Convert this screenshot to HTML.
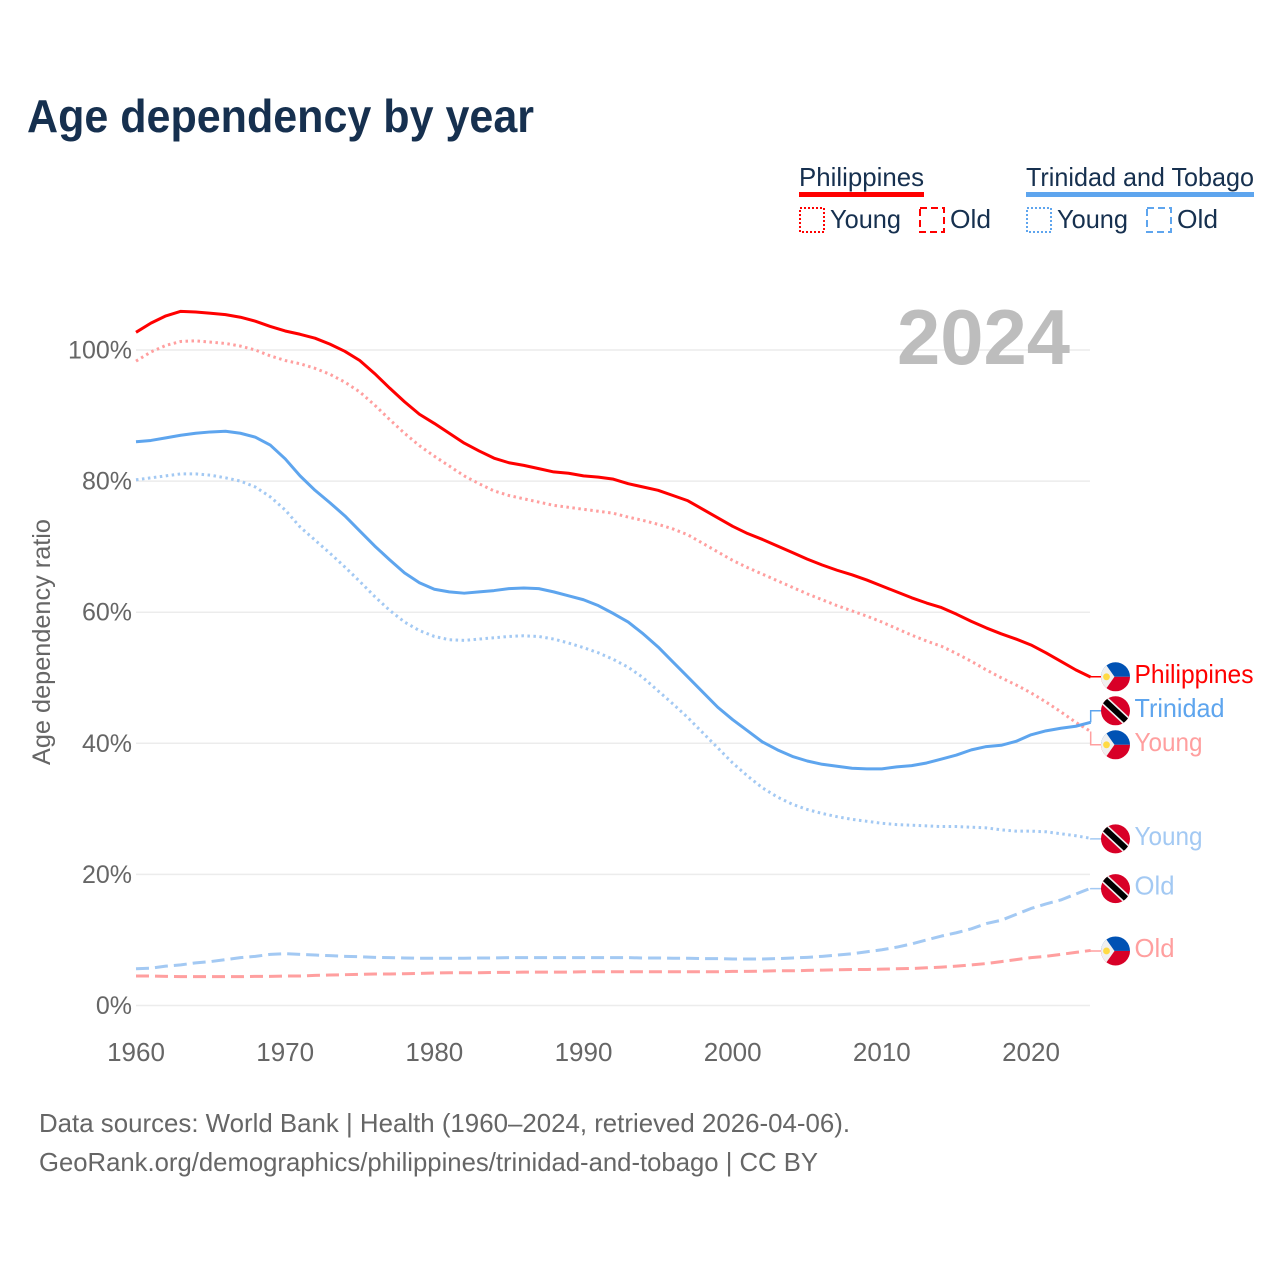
<!DOCTYPE html>
<html lang="en">
<head>
<meta charset="utf-8">
<title>Age dependency by year</title>
<style>
html,body{margin:0;padding:0;background:#fff;}
svg{display:block;font-family:"Liberation Sans",sans-serif;}
</style>
</head>
<body>
<svg id="chart" width="1280" height="1280" viewBox="0 0 1280 1280" xmlns="http://www.w3.org/2000/svg">
  <defs>
    <clipPath id="flag-clip"><circle cx="0" cy="0" r="14.5"/></clipPath>
    <g id="flag-ph">
      <g clip-path="url(#flag-clip)">
        <rect x="-15" y="-15" width="30" height="15" fill="#0052b4"/>
        <rect x="-15" y="0" width="30" height="15" fill="#d80027"/>
        <polygon points="-15,-17 -13,-17 -1,0 -13,17 -15,17" fill="#f0f0f0"/>
        <circle cx="-9" cy="0" r="3.4" fill="#ffda44"/>
      </g>
    </g>
    <g id="flag-tt">
      <g clip-path="url(#flag-clip)">
        <rect x="-15" y="-15" width="30" height="30" fill="#d80027"/>
        <g transform="rotate(43)">
          <rect x="-14" y="-4.6" width="28" height="9.2" fill="#f0f0f0"/>
          <rect x="-14.5" y="-3" width="29" height="6" fill="#000"/>
        </g>
      </g>
    </g>
  </defs>

  <text x="27" y="132" font-size="46" font-weight="700" fill="#16304f" textLength="507" lengthAdjust="spacingAndGlyphs">Age dependency by year</text>

  <g font-size="26" fill="#16304f">
    <text x="799" y="186" textLength="125" lengthAdjust="spacingAndGlyphs">Philippines</text>
    <rect x="799" y="192" width="125" height="5" fill="#ff0000"/>
    <rect x="800" y="208" width="24" height="24" fill="none" stroke="#ff0000" stroke-width="2" stroke-dasharray="2 2"/>
    <text x="830" y="228" textLength="71" lengthAdjust="spacingAndGlyphs">Young</text>
    <rect x="920" y="208" width="24" height="24" fill="none" stroke="#ff0000" stroke-width="2" stroke-dasharray="7 4"/>
    <text x="950" y="228" textLength="41" lengthAdjust="spacingAndGlyphs">Old</text>
    <text x="1026" y="186" textLength="228" lengthAdjust="spacingAndGlyphs">Trinidad and Tobago</text>
    <rect x="1026" y="192" width="228" height="5" fill="#5ea5ee"/>
    <rect x="1027" y="208" width="24" height="24" fill="none" stroke="#5ea5ee" stroke-width="2" stroke-dasharray="2 2"/>
    <text x="1057" y="228" textLength="71" lengthAdjust="spacingAndGlyphs">Young</text>
    <rect x="1147" y="208" width="24" height="24" fill="none" stroke="#5ea5ee" stroke-width="2" stroke-dasharray="7 4"/>
    <text x="1177" y="228" textLength="41" lengthAdjust="spacingAndGlyphs">Old</text>
  </g>

  <g id="grid"></g>

  <text x="897" y="364" font-size="78" font-weight="700" fill="#bdbdbd" textLength="173" lengthAdjust="spacingAndGlyphs">2024</text>

  <g id="y-axis" font-size="25" fill="#666666"></g>
  <g id="x-axis" font-size="26" fill="#666666"></g>
  <text transform="translate(50 642) rotate(-90)" text-anchor="middle" font-size="25" fill="#666666" textLength="246" lengthAdjust="spacingAndGlyphs">Age dependency ratio</text>

  <g id="series"></g>
  <g id="end-labels" font-size="26"></g>

  <g font-size="26" fill="#666666">
    <text x="39" y="1132" textLength="811" lengthAdjust="spacingAndGlyphs">Data sources: World Bank | Health (1960–2024, retrieved 2026-04-06).</text>
    <text x="39" y="1171" textLength="779" lengthAdjust="spacingAndGlyphs">GeoRank.org/demographics/philippines/trinidad-and-tobago | CC BY</text>
  </g>
</svg>

<script>
const firstYear = 1960;
const xTickYears = [1960, 1970, 1980, 1990, 2000, 2010, 2020];
const yTickValues = [0, 20, 40, 60, 80, 100];

const philippinesTotal = [
  102.7,104.1,105.2,105.9,105.8,105.6,105.4,105.0,104.4,103.6,
  102.9,102.4,101.8,100.9,99.8,98.4,96.4,94.2,92.1,90.2,
  88.8,87.3,85.8,84.6,83.5,82.8,82.4,81.9,81.4,81.2,
  80.8,80.6,80.3,79.6,79.1,78.6,77.8,77.0,75.7,74.4,
  73.1,72.0,71.1,70.1,69.1,68.1,67.2,66.4,65.7,64.9,
  64.0,63.1,62.2,61.4,60.7,59.7,58.6,57.6,56.7,55.9,
  55.0,53.8,52.5,51.2,50.1
];
const philippinesYoung = [
  98.3,99.7,100.7,101.3,101.4,101.2,101.0,100.6,100.0,99.1,
  98.4,97.9,97.2,96.3,95.1,93.6,91.6,89.4,87.3,85.4,
  83.8,82.3,80.8,79.6,78.5,77.8,77.3,76.8,76.3,76.0,
  75.7,75.4,75.1,74.5,74.0,73.4,72.7,71.8,70.5,69.2,
  67.9,66.8,65.8,64.8,63.8,62.8,61.9,61.0,60.2,59.4,
  58.5,57.5,56.5,55.6,54.8,53.7,52.5,51.2,50.0,48.9,
  47.7,46.3,44.8,43.2,41.8
];
const philippinesOld = [
  4.5,4.5,4.45,4.4,4.4,4.4,4.4,4.4,4.45,4.45,
  4.5,4.5,4.6,4.65,4.7,4.75,4.8,4.8,4.85,4.9,
  4.95,5,5,5,5.05,5.05,5.1,5.1,5.1,5.1,
  5.15,5.15,5.15,5.15,5.15,5.15,5.15,5.15,5.15,5.15,
  5.2,5.2,5.25,5.3,5.3,5.35,5.4,5.45,5.5,5.5,
  5.55,5.6,5.65,5.75,5.85,6,6.2,6.4,6.7,7,
  7.3,7.5,7.8,8.1,8.4
];
const trinidadTotal = [
  86.0,86.2,86.6,87.0,87.3,87.5,87.6,87.3,86.7,85.5,
  83.4,80.8,78.6,76.7,74.7,72.4,70.1,68.0,66.0,64.5,
  63.5,63.1,62.9,63.1,63.3,63.6,63.7,63.6,63.1,62.5,
  61.9,61.0,59.8,58.5,56.7,54.7,52.4,50.1,47.8,45.5,
  43.6,41.9,40.2,39.0,38.0,37.3,36.8,36.5,36.2,36.1,
  36.1,36.4,36.6,37.0,37.6,38.2,39.0,39.5,39.7,40.3,
  41.3,41.9,42.3,42.6,43.2
];
const trinidadYoung = [
  80.2,80.5,80.8,81.1,81.1,80.9,80.5,80.0,79.1,77.6,
  75.6,73.0,71.0,69.0,66.9,64.7,62.4,60.3,58.5,57.2,
  56.3,55.8,55.7,55.9,56.1,56.3,56.4,56.3,55.9,55.3,
  54.6,53.8,52.8,51.6,50.0,48.0,46.0,43.9,41.6,39.3,
  37.0,35.0,33.2,31.8,30.7,29.9,29.3,28.8,28.4,28.1,
  27.8,27.6,27.5,27.4,27.3,27.3,27.2,27.1,26.8,26.6,
  26.6,26.5,26.2,25.9,25.5
];
const trinidadOld = [
  5.6,5.7,6,6.2,6.5,6.7,7,7.3,7.5,7.8,
  7.9,7.8,7.7,7.6,7.5,7.45,7.35,7.3,7.25,7.2,
  7.2,7.2,7.2,7.25,7.25,7.3,7.3,7.3,7.3,7.3,
  7.3,7.3,7.3,7.3,7.25,7.25,7.2,7.2,7.15,7.15,
  7.1,7.1,7.1,7.15,7.25,7.35,7.5,7.7,7.9,8.2,
  8.5,8.9,9.4,10,10.6,11.1,11.7,12.5,13,13.9,
  14.8,15.5,16.1,17,17.9
];

const NS = 'http://www.w3.org/2000/svg';
const xScale = year => 136 + (year - firstYear) * 14.917;
const yScale = pct => 1005.5 - pct * 6.555;
const RED = '#ff0000', BLUE = '#5ea5ee', LIGHT_RED = '#ff9f9f', LIGHT_BLUE = '#a3c9f3';

const seriesList = [
  {key:'philippines-old', values:philippinesOld, color:LIGHT_RED, dash:'13 6', label:'Old', flag:'flag-ph'},
  {key:'trinidad-old', values:trinidadOld, color:LIGHT_BLUE, dash:'13 6', label:'Old', flag:'flag-tt'},
  {key:'trinidad-young', values:trinidadYoung, color:LIGHT_BLUE, dash:'2.5 3.5', label:'Young', flag:'flag-tt'},
  {key:'philippines-young', values:philippinesYoung, color:LIGHT_RED, dash:'2.5 3.5', label:'Young', flag:'flag-ph'},
  {key:'trinidad-total', values:trinidadTotal, color:BLUE, dash:'', label:'Trinidad', flag:'flag-tt'},
  {key:'philippines-total', values:philippinesTotal, color:RED, dash:'', label:'Philippines', flag:'flag-ph'}
];

const labelWidths = {Old:40, Young:68, Trinidad:90, Philippines:119};

function svgEl(tag) { return document.createElementNS(NS, tag); }

const gridGroup = document.getElementById('grid');
const yAxisGroup = document.getElementById('y-axis');
yTickValues.forEach(v => {
  const line = svgEl('line');
  
  
  line.setAttribute('x1', 136);
  line.setAttribute('x2', 1090);
  line.setAttribute('y1', yScale(v));
  line.setAttribute('y2', yScale(v));
  line.setAttribute('stroke', '#ececec');
  line.setAttribute('stroke-width', 1.5);
  gridGroup.appendChild(line);

  const t = svgEl('text');
  
  
  t.setAttribute('x', 132);
  t.setAttribute('y', yScale(v) + 8.5);
  t.setAttribute('text-anchor', 'end');
  t.textContent = v + '%';
  yAxisGroup.appendChild(t);
});

const xAxisGroup = document.getElementById('x-axis');
xTickYears.forEach(y => {
  const t = svgEl('text');
  
  
  t.setAttribute('x', xScale(y));
  t.setAttribute('y', 1061);
  t.setAttribute('text-anchor', 'middle');
  t.textContent = y;
  xAxisGroup.appendChild(t);
});

const seriesGroup = document.getElementById('series');
seriesList.forEach(s => {
  const path = svgEl('path');
  
  
  path.setAttribute('d', s.values.map((v, i) => (i ? 'L' : 'M') + xScale(firstYear + i).toFixed(2) + ' ' + yScale(v).toFixed(2)).join(' '));
  path.setAttribute('fill', 'none');
  path.setAttribute('stroke', s.color);
  path.setAttribute('stroke-width', 3);
  path.setAttribute('stroke-linejoin', 'round');
  if (s.dash) path.setAttribute('stroke-dasharray', s.dash);
  seriesGroup.appendChild(path);
});

/* End labels are nudged apart so the flags never overlap. */
const MIN_GAP = 34;
const placed = seriesList.map(s => ({s: s, anchor: yScale(s.values[s.values.length - 1]), y: yScale(s.values[s.values.length - 1])}));
placed.sort((a, b) => a.anchor - b.anchor);
for (let pass = 0; pass < 40; pass++) {
  for (let i = 1; i < placed.length; i++) {
    const overlap = MIN_GAP - (placed[i].y - placed[i - 1].y);
    if (overlap > 0) {
      placed[i - 1].y -= overlap / 2;
      placed[i].y += overlap / 2;
    }
  }
}

const endGroup = document.getElementById('end-labels');
const lastX = xScale(firstYear + philippinesTotal.length - 1);
placed.forEach(p => {
  const flagY = p.y + 0.5;
  const leader = svgEl('polyline');
  
  
  leader.setAttribute('points', lastX + ',' + p.anchor + ' ' + lastX + ',' + flagY + ' ' + (lastX + 12) + ',' + flagY);
  leader.setAttribute('fill', 'none');
  leader.setAttribute('stroke', p.s.color);
  leader.setAttribute('stroke-width', 1.5);
  endGroup.appendChild(leader);

  const flag = svgEl('use');
  
  
  flag.setAttribute('href', '#' + p.s.flag);
  flag.setAttribute('x', 1115.5);
  flag.setAttribute('y', flagY);
  endGroup.appendChild(flag);

  const label = svgEl('text');
  
  
  label.setAttribute('x', 1134.5);
  label.setAttribute('y', flagY + 6);
  label.setAttribute('fill', p.s.color);
  label.setAttribute('textLength', labelWidths[p.s.label]);
  label.setAttribute('lengthAdjust', 'spacingAndGlyphs');
  label.textContent = p.s.label;
  endGroup.appendChild(label);
});
</script>
</body>
</html>
